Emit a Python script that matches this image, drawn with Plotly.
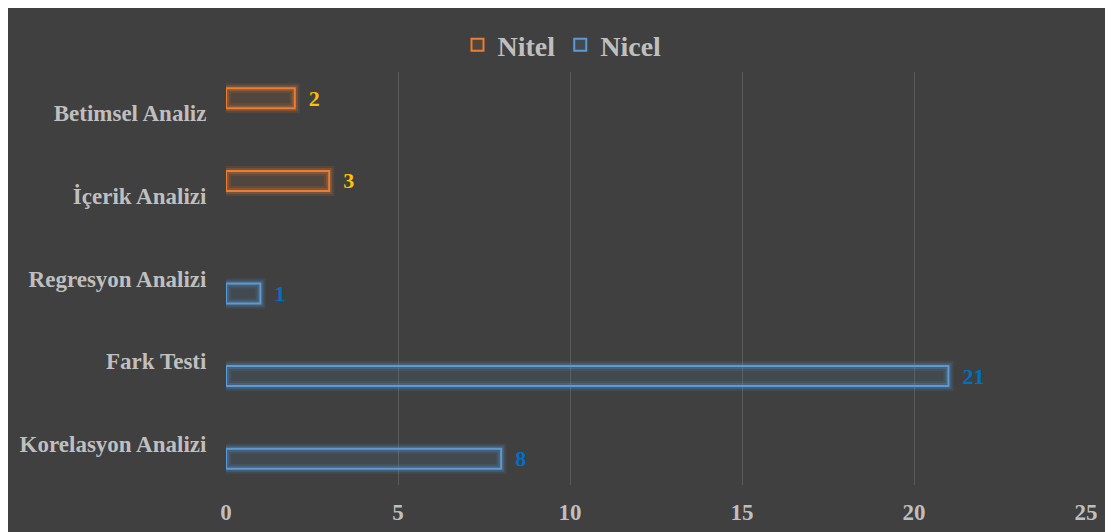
import plotly.graph_objects as go

categories = ["Korelasyon Analizi", "Fark Testi", "Regresyon Analizi", "İçerik Analizi", "Betimsel Analiz"]
nicel = [8, 21, 1, None, None]
nitel = [None, None, None, 3, 2]
x_ticks = [0, 5, 10, 15, 20, 25]

W, H = 1105, 524
ML, MR, MT, MB = 218, 27, 64, 47
BG = "#404040"
LABEL = "#BFBFBF"
FONT = "Liberation Serif, Times New Roman, serif"
ORANGE = "#ED7D31"
BLUE = "#5B9BD5"


def labels(vals):
    return ["\u00a0\u00a0" + str(v) if v is not None else "" for v in vals]


fig = go.Figure()

# glow layers
for vals, col, grp in [(nicel, BLUE, "a"), (nitel, ORANGE, "b")]:
    for lw, op in [(10, 0.12), (6, 0.22)]:
        fig.add_trace(go.Bar(
            y=categories, x=vals, orientation="h", offsetgroup=grp,
            marker=dict(color="rgba(0,0,0,0)", line=dict(color=col, width=lw)),
            opacity=op, showlegend=False, hoverinfo="skip"))

fig.add_trace(go.Bar(
    name="Nicel", y=categories, x=nicel, orientation="h", offsetgroup="a",
    marker=dict(color="rgba(91,155,213,0.10)", line=dict(color=BLUE, width=2)),
    text=labels(nicel), textposition="outside", constraintext="none",
    textfont=dict(family=FONT, size=22, color="#0070C0", weight="bold")))
fig.add_trace(go.Bar(
    name="Nitel", y=categories, x=nitel, orientation="h", offsetgroup="b",
    marker=dict(color="rgba(237,125,49,0.10)", line=dict(color=ORANGE, width=2)),
    text=labels(nitel), textposition="outside", constraintext="none",
    textfont=dict(family=FONT, size=22, color="#FFC000", weight="bold")))

fig.update_layout(
    width=W, height=H,
    margin=dict(l=ML, r=MR, t=MT, b=MB, autoexpand=False),
    paper_bgcolor=BG, plot_bgcolor=BG,
    barmode="group", bargap=0.2736, bargroupgap=0.333,
    font=dict(family=FONT, color=LABEL),
    legend=dict(orientation="h", traceorder="reversed",
                xref="container", yref="container",
                x=554 / W, y=1 - 37 / H, xanchor="center", yanchor="middle",
                font=dict(family=FONT, size=28, color=LABEL, weight="bold"),
                bgcolor="rgba(0,0,0,0)", itemwidth=30),
    xaxis=dict(range=[0, 25], tickvals=x_ticks, showgrid=True, gridcolor="#5A5A5A", gridwidth=1,
               zeroline=True, zerolinecolor=BG, showline=False, automargin=False,
               ticks="outside", ticklen=6, tickcolor="rgba(0,0,0,0)",
               tickfont=dict(family=FONT, size=23, color=LABEL, weight="bold")),
    yaxis=dict(type="category", categoryorder="array", categoryarray=categories,
               showgrid=False, zeroline=False, showline=False, automargin=False,
               ticks="outside", ticklen=14, tickcolor="rgba(0,0,0,0)",
               tickfont=dict(family=FONT, size=23, color=LABEL, weight="bold")),
)

fig.write_html("out.html")
